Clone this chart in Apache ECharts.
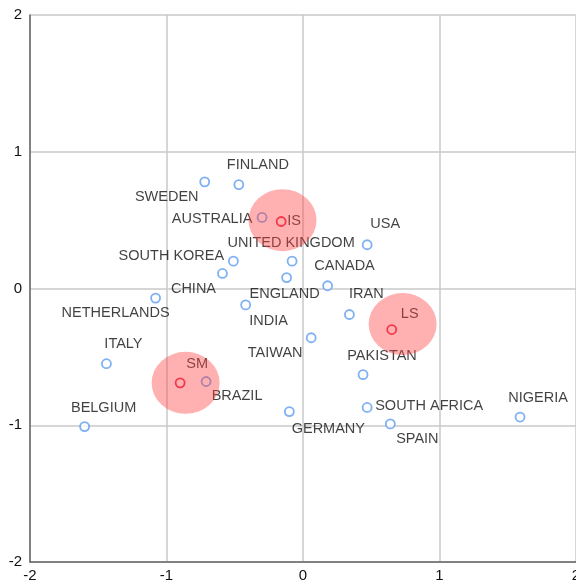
<!DOCTYPE html>
<html>
<head>
<meta charset="utf-8">
<script src="https://cdn.jsdelivr.net/npm/echarts@6/dist/echarts.min.js"></script>
<style>
	html, body { margin: 0; padding: 0; background: #fff; }
	#chart { width: 576px; height: 585px; }
</style>
</head>
<body>
<div id="chart"></div>
<script>
	// country points
	var countries = ['FINLAND', 'SWEDEN', 'AUSTRALIA', 'USA', 'UNITED KINGDOM', 'SOUTH KOREA', 'CANADA',
		'CHINA', 'ENGLAND', 'NETHERLANDS', 'IRAN', 'INDIA', 'ITALY', 'TAIWAN', 'PAKISTAN', 'BRAZIL',
		'BELGIUM', 'GERMANY', 'SOUTH AFRICA', 'NIGERIA', 'SPAIN'];
	var countryX = [-0.47, -0.72, -0.30, 0.47, -0.08, -0.51, 0.18,
		-0.59, -0.12, -1.08, 0.34, -0.42, -1.44, 0.06, 0.44, -0.71,
		-1.60, -0.10, 0.47, 1.59, 0.64];
	var countryY = [0.76, 0.78, 0.52, 0.32, 0.20, 0.20, 0.02,
		0.11, 0.08, -0.07, -0.19, -0.12, -0.55, -0.36, -0.63, -0.68,
		-1.01, -0.90, -0.87, -0.94, -0.99];

	// group points
	var groups = ['IS', 'LS', 'SM'];
	var groupX = [-0.16, 0.65, -0.90];
	var groupY = [0.49, -0.30, -0.69];

	// shaded areas around groups
	var areaX = [-0.15, 0.73, -0.86];
	var areaY = [0.50, -0.26, -0.69];

	var xTicks = [-2, -1, 0, 1, 2];
	var yTicks = [-2, -1, 0, 1, 2];

	// label offsets (pixels from point centre)
	var labelShift = {
		'FINLAND': [19, -20], 'SWEDEN': [-38, 15], 'AUSTRALIA': [-50, 2], 'USA': [18, -21],
		'UNITED KINGDOM': [-1, -18], 'SOUTH KOREA': [-62, -5], 'CANADA': [17, -20],
		'CHINA': [-29, 16], 'ENGLAND': [-2, 16], 'NETHERLANDS': [-40, 15], 'IRAN': [17, -20],
		'INDIA': [23, 16], 'ITALY': [17, -20], 'TAIWAN': [-36, 15], 'PAKISTAN': [19, -19],
		'BRAZIL': [31, 15], 'BELGIUM': [19, -19], 'GERMANY': [39, 17], 'SOUTH AFRICA': [62, -1],
		'NIGERIA': [18, -19], 'SPAIN': [27, 15],
		'IS': [13, 0], 'LS': [18, -16], 'SM': [17, -19]
	};

	function buildPoints(names, xs, ys) {
		return names.map(function (n, i) {
			return {
				name: n,
				value: [xs[i], ys[i]],
				label: { offset: labelShift[n] }
			};
		});
	}

	var myChart = echarts.init(document.getElementById('chart'));

	var labelStyle = {
		show: true,
		position: 'inside',
		formatter: '{b}',
		color: '#111',
		fontFamily: 'Liberation Sans, Arial, sans-serif',
		fontSize: 14.5
	};

	var option = {
		animation: false,
		grid: { left: 30, right: 0, top: 15, bottom: 23, outerBoundsMode: 'none', containLabel: false },
		xAxis: {
			type: 'value',
			min: xTicks[0],
			max: xTicks[xTicks.length - 1],
			interval: 1,
			axisLine: { onZero: false, lineStyle: { color: '#666', width: 1.5 } },
			axisTick: { show: false },
			axisLabel: { color: '#111', fontSize: 15, margin: 6, fontFamily: 'Liberation Sans, Arial, sans-serif' },
			splitLine: { lineStyle: { color: '#c8c8c8', width: 1.5 } }
		},
		yAxis: {
			type: 'value',
			min: yTicks[0],
			max: yTicks[yTicks.length - 1],
			interval: 1,
			axisLine: { show: true, onZero: false, lineStyle: { color: '#666', width: 1.5 } },
			axisTick: { show: false },
			axisLabel: { color: '#111', fontSize: 15, margin: 8, fontFamily: 'Liberation Sans, Arial, sans-serif' },
			splitLine: { lineStyle: { color: '#c8c8c8', width: 1.5 } }
		},
		series: [
			{
				name: 'countries',
				type: 'scatter',
				z: 2,
				symbol: 'circle',
				symbolSize: 9,
				itemStyle: { color: '#fff', borderColor: '#5e9cf0', borderWidth: 1.8 },
				label: labelStyle,
				data: buildPoints(countries, countryX, countryY)
			},
			{
				name: 'groups',
				type: 'scatter',
				z: 3,
				symbol: 'circle',
				symbolSize: 9,
				itemStyle: { color: 'rgba(255,255,255,0)', borderColor: '#e8002a', borderWidth: 1.8 },
				label: labelStyle,
				data: buildPoints(groups, groupX, groupY)
			},
			{
				name: 'areas',
				type: 'scatter',
				z: 5,
				silent: true,
				symbol: 'circle',
				symbolSize: [68, 62],
				itemStyle: { color: 'rgba(255,60,60,0.5)' },
				data: areaX.map(function (x, i) { return [x, areaY[i]]; })
			}
		]
	};

	myChart.setOption(option);
</script>
</body>
</html>
